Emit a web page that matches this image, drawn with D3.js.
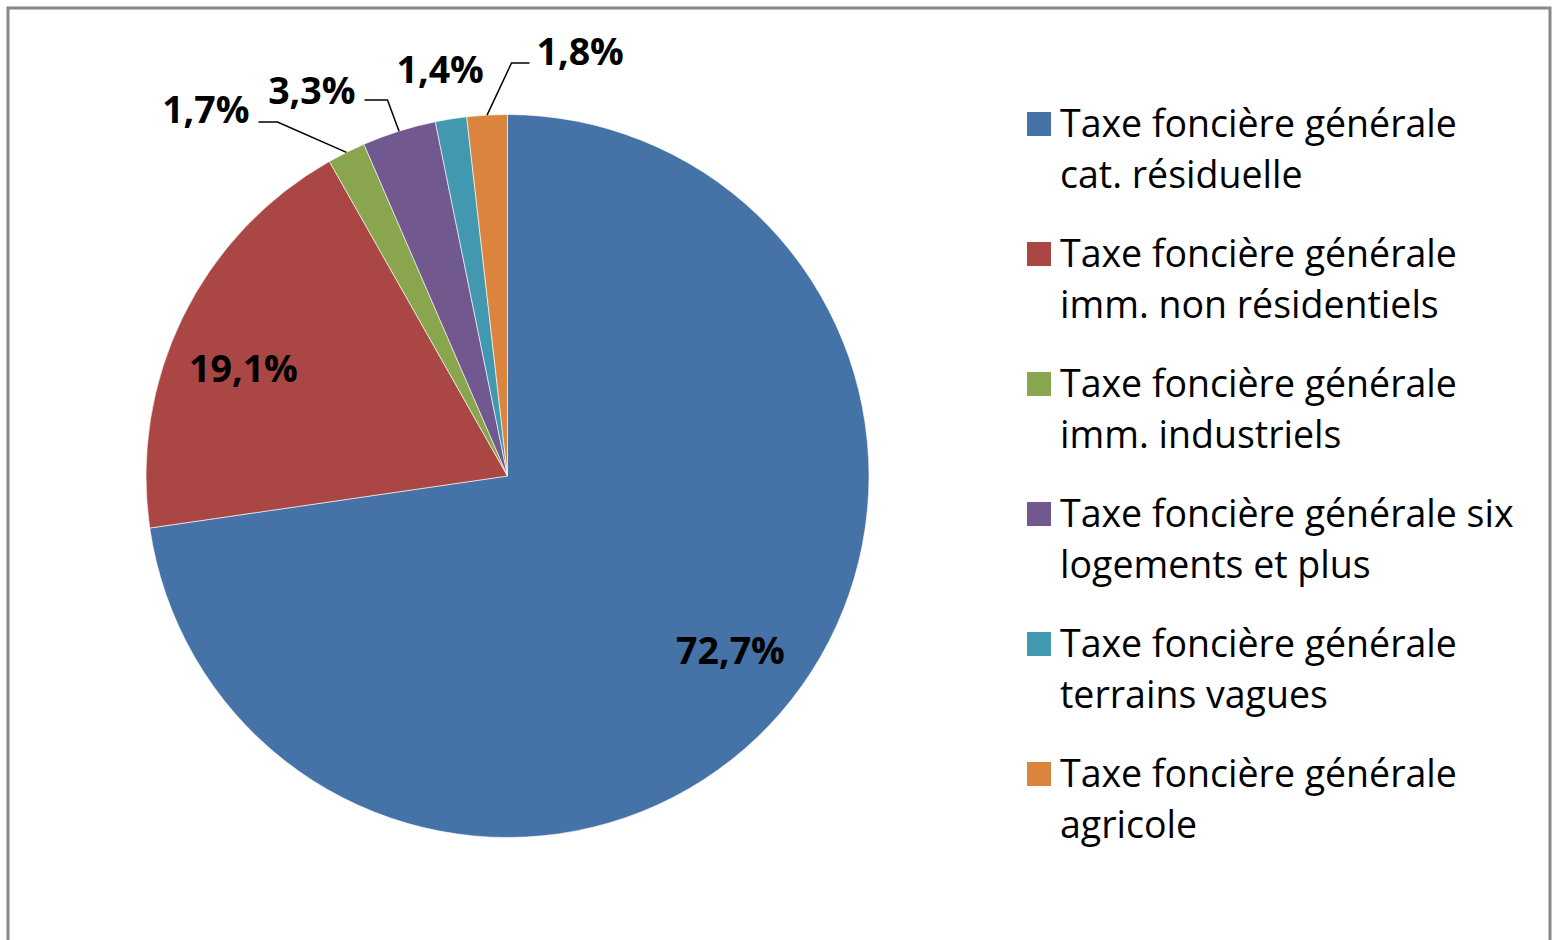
<!DOCTYPE html>
<html>
<head>
<meta charset="utf-8">
<script src="https://cdn.jsdelivr.net/npm/d3@7"></script>
<style>
  html, body { margin: 0; padding: 0; background: #fff; }
  svg { display: block; }
</style>
</head>
<body>
<script>
// ---- data ----
const categories = [
  "Taxe foncière générale cat. résiduelle",
  "Taxe foncière générale imm. non résidentiels",
  "Taxe foncière générale imm. industriels",
  "Taxe foncière générale six logements et plus",
  "Taxe foncière générale terrains vagues",
  "Taxe foncière générale agricole"
];
const values = [72.7, 19.1, 1.7, 3.3, 1.4, 1.8];
const valueLabels = ["72,7%", "19,1%", "1,7%", "3,3%", "1,4%", "1,8%"];
const legendLines = [
  ["Taxe foncière générale", "cat. résiduelle"],
  ["Taxe foncière générale", "imm. non résidentiels"],
  ["Taxe foncière générale", "imm. industriels"],
  ["Taxe foncière générale six", "logements et plus"],
  ["Taxe foncière générale", "terrains vagues"],
  ["Taxe foncière générale", "agricole"]
];
const colors = ["#4572A7", "#AA4643", "#89A54E", "#71588F", "#4198AF", "#DB843D"];

// ---- layout (positions relative to pie center) ----
const W = 1558, H = 940;
const cx = 507.5, cy = 476, R = 361.5;
const labelLayout = [
  { x: 223, y: 188, anchor: "middle" },
  { x: -264, y: -94, anchor: "middle" },
  { x: -258, y: -353, anchor: "end", elbow: [-230, -354], lineEnd: [-249, -354] },
  { x: -152, y: -372, anchor: "end", elbow: [-120, -376], lineEnd: [-143, -376] },
  { x: -111, y: -393, anchor: "start" },
  { x: 29, y: -411, anchor: "start", elbow: [4, -413], lineEnd: [22, -413] }
];

const svg = d3.select("body").append("svg").attr("width", W).attr("height", H);

// frame
svg.append("rect").attr("x", 8).attr("y", 8).attr("width", W - 10 - 8 + 2).attr("height", H + 20)
  .attr("fill", "#fff").attr("stroke", "#888").attr("stroke-width", 3);

const g = svg.append("g").attr("transform", `translate(${cx},${cy})`);

const pie = d3.pie().sort(null).value(d => d);
const arcs = pie(values);
const arc = d3.arc().innerRadius(0).outerRadius(R);

g.selectAll("path.slice").data(arcs).join("path")
  .attr("class", "slice")
  .attr("d", arc)
  .attr("fill", (d, i) => colors[i])
  .attr("stroke", "#ffffff")
  .attr("stroke-opacity", 0.6)
  .attr("stroke-width", 1);

// leader lines
arcs.forEach((d, i) => {
  const L = labelLayout[i];
  if (!L.elbow) return;
  const mid = (d.startAngle + d.endAngle) / 2;
  const px = R * Math.sin(mid), py = -R * Math.cos(mid);
  g.append("polyline")
    .attr("points", [[px, py], L.elbow, L.lineEnd].map(p => p.join(",")).join(" "))
    .attr("fill", "none").attr("stroke", "#000").attr("stroke-width", 1.5);
});

// data labels
g.selectAll("text.lbl").data(arcs).join("text")
  .attr("class", "lbl")
  .attr("x", (d, i) => labelLayout[i].x)
  .attr("y", (d, i) => labelLayout[i].y)
  .attr("text-anchor", (d, i) => labelLayout[i].anchor)
  .attr("font-family", "'Open Sans', sans-serif")
  .attr("font-weight", "bold")
  .attr("font-size", 37.5)
  .attr("fill", "#000")
  .text((d, i) => valueLabels[i]);

// legend
const legX = 1027, legY0 = 137, legStep = 130, lineStep = 51, sw = 24;
const leg = svg.append("g");
const probe = leg.append("text").attr("font-family", "'Open Sans', sans-serif").attr("font-size", 100).text(legendLines[0][0]);
const pw = probe.node().getComputedTextLength();
probe.remove();
const legFont = 100 * 397 / pw;

legendLines.forEach((lines, i) => {
  const y = legY0 + i * legStep;
  leg.append("rect").attr("x", legX).attr("y", y - 25).attr("width", sw).attr("height", sw)
    .attr("fill", colors[i]);
  lines.forEach((t, j) => {
    leg.append("text")
      .attr("x", legX + 33).attr("y", y + j * lineStep)
      .attr("font-family", "'Open Sans', sans-serif")
      .attr("font-size", legFont)
      .attr("fill", "#000")
      .text(t);
  });
});
</script>
</body>
</html>
